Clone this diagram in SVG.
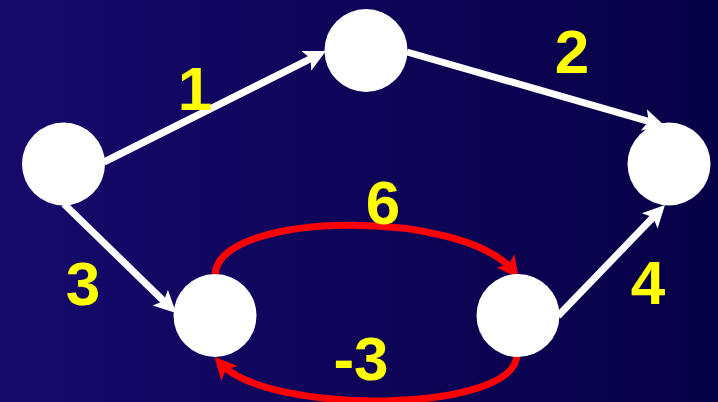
<svg xmlns="http://www.w3.org/2000/svg" width="718" height="402" viewBox="0 0 718 402">
  <defs>
    <linearGradient id="bg" x1="0" y1="0" x2="1" y2="0">
      <stop offset="0" stop-color="#160a6c"/>
      <stop offset="1" stop-color="#060046"/>
    </linearGradient>
    <marker id="ahW" markerUnits="userSpaceOnUse" markerWidth="30" markerHeight="30" viewBox="0 0 30 30" refX="14" refY="15" orient="auto">
      <path d="M0,4 L22,15 L0,26 L5,15 Z" fill="#ffffff"/>
    </marker>
    <marker id="ahR" markerUnits="userSpaceOnUse" markerWidth="30" markerHeight="30" viewBox="0 0 30 30" refX="14" refY="15" orient="auto">
      <path d="M0,4 L22,15 L0,26 L5,15 Z" fill="#ff0000"/>
    </marker>
  </defs>
  <style>
    .node { fill: #ffffff; }
    .edge { fill: none; stroke: #ffffff; stroke-width: 7; marker-end: url(#ahW); }
    .neg { fill: none; stroke: #ff0000; stroke-width: 7; marker-end: url(#ahR); }
    .lbl { font-family: "Liberation Sans", Arial, sans-serif; font-weight: bold; font-size: 62px; fill: #ffff00; text-anchor: middle; }
  </style>
  <rect x="0" y="0" width="718" height="402" fill="url(#bg)"/>
  <g id="connectors">
    <path class="edge" d="M104,162 L318.8,54.6"/>
    <path class="edge" d="M407,52 L657.3,123.8"/>
    <path class="edge" d="M64,204 L170.3,307.4"/>
    <path class="edge" d="M558,316 L659.4,210.8"/>
    <path class="neg" d="M215,276 C215,210 465,208 514,272"/>
    <path class="neg" d="M517,354 C517,414 268,416 220,363"/>
  </g>
  <g id="n-s"><circle class="node" cx="63.5" cy="164" r="41.5"/></g>
  <g id="n-a"><circle class="node" cx="366" cy="50.5" r="41.5"/></g>
  <g id="n-t"><circle class="node" cx="669" cy="164" r="41.5"/></g>
  <g id="n-b"><circle class="node" cx="215" cy="315.5" r="41.5"/></g>
  <g id="n-c"><circle class="node" cx="518" cy="315.5" r="41.5"/></g>
  <g id="labels">
    <text class="lbl" x="195" y="110">1</text>
    <text class="lbl" x="572" y="73">2</text>
    <text class="lbl" x="383" y="224">6</text>
    <text class="lbl" x="83" y="305">3</text>
    <text class="lbl" x="648" y="304">4</text>
    <text class="lbl" x="361" y="380">-3</text>
  </g>
</svg>
